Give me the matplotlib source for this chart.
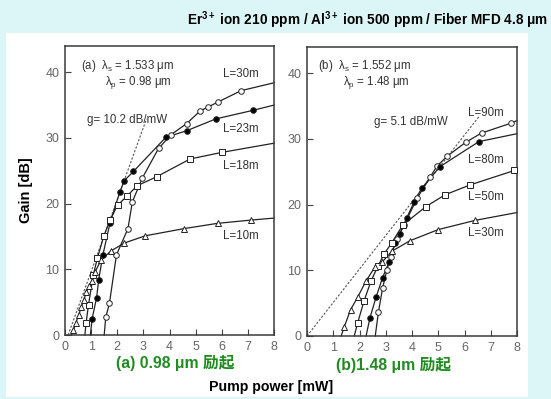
import matplotlib
matplotlib.use("Agg")
import matplotlib.pyplot as plt
from matplotlib.patches import Rectangle

plt.rcParams['font.family'] = ['Liberation Sans', 'DejaVu Sans', 'Noto Sans CJK JP']
plt.rcParams['mathtext.fontset'] = 'custom'
plt.rcParams['mathtext.rm'] = 'Liberation Sans'
plt.rcParams['mathtext.it'] = 'Liberation Sans'
plt.rcParams['mathtext.bf'] = 'Liberation Sans:bold'

# ---------------- data: panel (a) 0.98 um pump ----------------
a_L30_x = [1.56, 1.70, 1.97, 2.41, 2.58, 2.96, 3.58, 4.06, 4.66, 5.17, 5.47, 5.87, 6.74]
a_L30_y = [2.7, 4.8, 12.2, 16.2, 20.3, 23.9, 28.4, 30.5, 32.2, 34.1, 34.7, 35.5, 37.2]
a_L23_x = [1.04, 1.21, 1.29, 1.45, 1.72, 2.10, 2.27, 2.62, 3.86, 4.66, 5.77, 7.19]
a_L23_y = [2.5, 5.7, 8.4, 12.2, 17.0, 21.8, 23.5, 24.9, 30.1, 31.1, 32.9, 34.2]
a_L18_x = [0.81, 0.90, 1.08, 1.24, 1.48, 1.72, 2.02, 2.39, 2.75, 3.51, 4.79, 6.00]
a_L18_y = [1.9, 4.6, 9.1, 11.7, 15.0, 17.5, 19.8, 21.2, 22.7, 24.1, 26.8, 27.8]
a_L10_x = [0.32, 0.42, 0.52, 0.62, 0.72, 0.82, 0.92, 1.02, 1.15, 1.38, 1.76, 2.27, 3.07, 4.56, 5.84, 7.13]
a_L10_y = [0.7, 1.9, 3.0, 4.2, 5.4, 6.5, 7.4, 8.2, 9.6, 11.4, 12.8, 14.0, 15.1, 16.2, 17.0, 17.5]
a_thresh = [1.50, 0.97, 0.76, 0.25]      # start of each curve at 0 dB
a_end = [38.4, 35.0, 29.2, 17.8]         # gain at 8 mW
a_labels = ["L=30m", "L=23m", "L=18m", "L=10m"]
a_label_y = [39.8, 31.3, 25.7, 15.0]
a_g_x = [0.12, 3.12]
a_g_y = [0.0, 32.9]

# ---------------- data: panel (b) 1.48 um pump ----------------
b_L90_x = [2.72, 2.88, 3.04, 3.19, 3.42, 3.70, 4.20, 4.69, 4.96, 5.35, 6.05, 6.65, 7.77]
b_L90_y = [3.6, 7.3, 10.0, 12.1, 14.7, 16.9, 21.0, 24.2, 25.9, 27.4, 29.5, 30.9, 32.4]
b_L80_x = [2.40, 2.63, 2.88, 3.12, 3.35, 3.54, 3.80, 4.08, 4.37, 5.07, 6.55]
b_L80_y = [2.8, 5.9, 8.9, 11.2, 14.1, 15.6, 18.0, 20.4, 22.5, 25.8, 29.6]
b_L50_x = [1.93, 2.17, 2.44, 2.70, 2.94, 3.23, 3.65, 4.53, 5.26, 6.21, 7.90]
b_L50_y = [2.0, 5.3, 8.4, 10.6, 12.5, 14.2, 16.9, 19.7, 21.5, 23.0, 25.2]
b_L30_x = [1.42, 1.66, 1.93, 2.25, 2.59, 2.85, 3.23, 3.92, 5.00, 6.40]
b_L30_y = [1.4, 4.0, 5.9, 8.4, 10.5, 11.2, 12.9, 14.5, 16.2, 17.6]
b_thresh = [2.60, 2.25, 1.80, 1.30]
b_end = [32.8, 30.8, 25.3, 18.8]
b_labels = ["L=90m", "L=80m", "L=50m", "L=30m"]
b_label_y = [34.0, 26.8, 21.1, 15.7]
b_g_x = [0.0, 6.55]
b_g_y = [0.0, 33.4]

x_ticks = [0, 1, 2, 3, 4, 5, 6, 7, 8]
y_ticks = [0, 10, 20, 30, 40]

W, H = 551, 399
fig = plt.figure(figsize=(W / 100, H / 100), dpi=100)
fig.patch.set_facecolor('#dcf6f8')

def fx(px):
    return px / W

def fy(py):
    return 1 - py / H

# white picture area
fig.patches.append(Rectangle((fx(6), fy(397)), fx(528) - fx(6), fy(33) - fy(397),
                             transform=fig.transFigure, facecolor='white',
                             edgecolor='none', zorder=-5))

markers = [dict(marker='o', mfc='white'), dict(marker='o', mfc='black'),
           dict(marker='s', mfc='white'), dict(marker='^', mfc='white')]
TXT = 8.3

def make_axes(rect, series, thresh, ends, mks, labels, label_y, label_x, gx, gy):
    ax = fig.add_axes(rect)
    ax.set_zorder(2)
    ax.set_facecolor('none')
    ax.set_xlim(0, 8)
    ax.set_ylim(0, 44)
    for (xs, ys), t, e, mk in zip(series, thresh, ends, mks):
        lx = [t] + xs + [8]
        ly = [0] + ys + [e]
        ax.plot(lx, ly, color='#222222', lw=0.9, zorder=2, clip_on=False)
        ax.plot(xs, ys, ls='none', color='#222222', ms=4.0, mew=0.7,
                mec='#222222', zorder=3, clip_on=False, **mk)
    ax.plot(gx, gy, color='#555555', lw=0.8, ls=(0, (2, 1.5)), zorder=1)
    for lab, yy in zip(labels, label_y):
        ax.text(label_x, yy, lab, fontsize=TXT, color='#333333', va='center', ha='left')
    ax.set_xticks(x_ticks)
    ax.set_yticks(y_ticks)
    ax.tick_params(direction='in', length=4, width=0.8, colors='#444444',
                   labelcolor='#666666', labelsize=9, pad=4)
    for s in ax.spines.values():
        s.set_color('#3a3a3a')
        s.set_linewidth(1.1)
    return ax

axa = make_axes([fx(65), fy(335), fx(274) - fx(65), fy(46) - fy(335)],
                [(a_L30_x, a_L30_y), (a_L23_x, a_L23_y), (a_L18_x, a_L18_y), (a_L10_x, a_L10_y)],
                a_thresh, a_end, markers, a_labels, a_label_y, 6.05, a_g_x, a_g_y)
axa.text(0.6, 40.9, r"(a)  $\lambda_s$ = 1.533 μm", fontsize=TXT, color='#333333', va='center')
axa.text(1.55, 38.4, r"$\lambda_p$ = 0.98 μm", fontsize=TXT, color='#333333', va='center')
axa.text(0.85, 32.7, "g= 10.2 dB/mW", fontsize=TXT, color='#333333', va='center')

axb = make_axes([fx(307), fy(336), fx(517) - fx(307), fy(47) - fy(336)],
                [(b_L90_x, b_L90_y), (b_L80_x, b_L80_y), (b_L50_x, b_L50_y), (b_L30_x, b_L30_y)],
                b_thresh, b_end, markers, b_labels, b_label_y, 6.15, b_g_x, b_g_y)
axb.text(0.4, 41.1, r"(b)  $\lambda_s$ = 1.552 μm", fontsize=TXT, color='#333333', va='center')
axb.text(1.38, 38.6, r"$\lambda_p$ = 1.48 μm", fontsize=TXT, color='#333333', va='center')
axb.text(2.55, 32.6, "g= 5.1 dB/mW", fontsize=TXT, color='#333333', va='center')

# figure texts
fig.text(fx(548), fy(20), r"Er$^{\mathbf{3+}}$ ion 210 ppm / Al$^{\mathbf{3+}}$ ion 500 ppm / Fiber MFD 4.8 μm",
         ha='right', va='center', fontsize=9.8, fontweight='bold', color='black')
fig.text(fx(26), fy(190), "Gain [dB]", rotation=90, ha='center', va='center',
         fontsize=10.5, fontweight='bold', color='black')
fig.text(fx(271), fy(387), "Pump power [mW]", ha='center', va='center',
         fontsize=10.2, fontweight='bold', color='black')
green = '#1f8c1f'
fig.text(fx(175), fy(363), "(a) 0.98 μm 励起", ha='center', va='center',
         fontsize=11.3, fontweight='bold', color=green,
         family=['Liberation Sans', 'Noto Sans CJK JP'])
fig.text(fx(394), fy(365), "(b)1.48 μm 励起", ha='center', va='center',
         fontsize=11.3, fontweight='bold', color=green,
         family=['Liberation Sans', 'Noto Sans CJK JP'])

fig.savefig("out.png", dpi=100, facecolor=fig.get_facecolor())
